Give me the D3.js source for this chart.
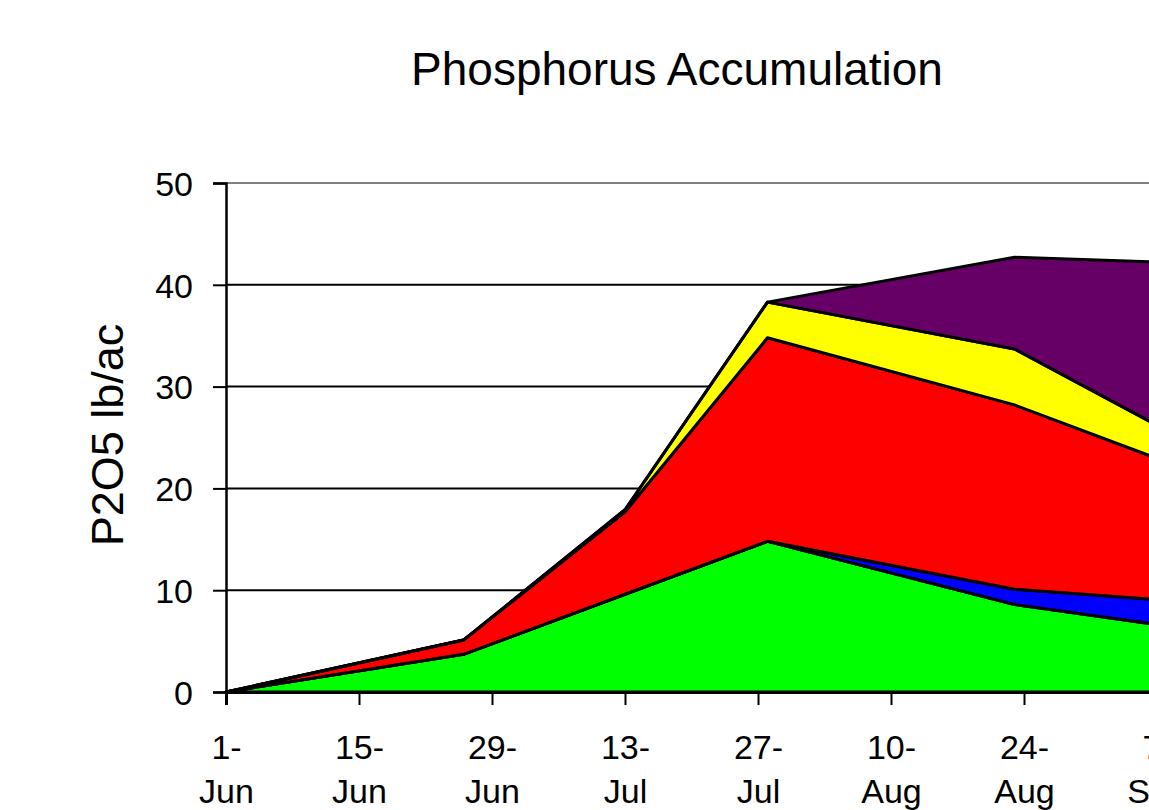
<!DOCTYPE html>
<html>
<head>
<meta charset="utf-8">
<script src="https://cdn.jsdelivr.net/npm/d3@7"></script>
<style>
  body { margin: 0; background: #fff; overflow: hidden; }
  text { font-family: "Liberation Sans", Arial, sans-serif; fill: #000; }
</style>
</head>
<body>
<div id="chart"></div>
<script>
// sample dates and the five stacked pools (bottom to top)
const dates = ["2003-06-01", "2003-06-26", "2003-07-13", "2003-07-28", "2003-08-23", "2003-09-08"];
const green  = [0, 3.7, 9.6, 14.8, 8.6, 6.5];
const blue   = [0, 0,   0,   0,    1.5, 2.5];
const red    = [0, 1.4, 8.1, 20.0, 18.1, 13.6];
const yellow = [0, 0,   0.2, 3.5,  5.5, 3.1];
const purple = [0, 0,   0,   0,    9.0, 16.5];

const seriesNames = ["green", "blue", "red", "yellow", "purple"];
const seriesColors = ["#00ff00", "#0000ff", "#ff0000", "#ffff00", "#660066"];
const yTicks = [0, 10, 20, 30, 40, 50];
const tickStart = "2003-06-01";
const tickStepDays = 14;

const width = 1149, height = 810;
const margin = { top: 183, left: 226, bottom: 118 };

const parse = d3.timeParse("%Y-%m-%d");
const rows = dates.map((d, i) => ({
  date: parse(d),
  green: green[i], blue: blue[i], red: red[i], yellow: yellow[i], purple: purple[i]
}));

const svg = d3.select("#chart").append("svg")
  .attr("width", width)
  .attr("height", height);

// plot area runs past the window on the right, as in the original
const t0 = parse(tickStart);
const pxPerDay = 9.5;
const xScale = d3.scaleTime()
  .domain([t0, d3.timeDay.offset(t0, 100)])
  .range([margin.left, margin.left + 100 * pxPerDay]);

const yScale = d3.scaleLinear()
  .domain([0, 50])
  .range([height - margin.bottom, margin.top]);

// gridlines
svg.append("g")
  .selectAll("line")
  .data(yTicks.filter(d => d > 0))
  .join("line")
    .attr("x1", margin.left)
    .attr("x2", width + 50)
    .attr("y1", d => yScale(d))
    .attr("y2", d => yScale(d))
    .attr("stroke", d => d === 50 ? "#808080" : "#000")
    .attr("stroke-width", 2);

const stack = d3.stack().keys(seriesNames);
const layers = stack(rows);

const area = d3.area()
  .x(d => xScale(d.data.date))
  .y0(d => yScale(d[0]))
  .y1(d => yScale(d[1]));

svg.append("g")
  .selectAll("path")
  .data(layers)
  .join("path")
    .attr("d", area)
    .attr("fill", (d, i) => seriesColors[i])
    .attr("stroke", "#000")
    .attr("stroke-width", 3)
    .attr("stroke-linejoin", "round");

// y axis
const yAxis = d3.axisLeft(yScale)
  .tickValues(yTicks)
  .tickSize(13)
  .tickPadding(20);

const gy = svg.append("g")
  .attr("transform", `translate(${margin.left},0)`)
  .call(yAxis);
gy.select(".domain").attr("stroke", "#000").attr("stroke-width", 2.5);
gy.selectAll(".tick line").attr("stroke", "#000").attr("stroke-width", 2);
gy.selectAll(".tick text")
  .style("font-size", "34px")
  .attr("dy", "0.36em");

// x axis
const xTickDates = d3.range(0, 8).map(i => d3.timeDay.offset(t0, i * tickStepDays));
const xAxis = d3.axisBottom(xScale)
  .tickValues(xTickDates)
  .tickSize(13)
  .tickFormat("");

const gx = svg.append("g")
  .attr("transform", `translate(0,${height - margin.bottom})`)
  .call(xAxis);
gx.select(".domain").attr("stroke", "#000").attr("stroke-width", 3);
gx.selectAll(".tick line").attr("stroke", "#000").attr("stroke-width", 2);

const fmtDay = d3.timeFormat("%-d-");
const fmtMon = d3.timeFormat("%b");
const xt = gx.selectAll(".tick").append("text")
  .attr("text-anchor", "middle")
  .style("font-size", "34px");
xt.append("tspan").attr("x", 0).attr("y", 67).text(d => fmtDay(d));
xt.append("tspan").attr("x", 0).attr("y", 111).text(d => fmtMon(d));

// title
svg.append("text")
  .attr("x", 677)
  .attr("y", 85)
  .attr("text-anchor", "middle")
  .style("font-size", "46px")
  .text("Phosphorus Accumulation");

// y label
svg.append("text")
  .attr("transform", "translate(123,435) rotate(-90)")
  .attr("text-anchor", "middle")
  .style("font-size", "45px")
  .text("P2O5 lb/ac");
</script>
</body>
</html>
